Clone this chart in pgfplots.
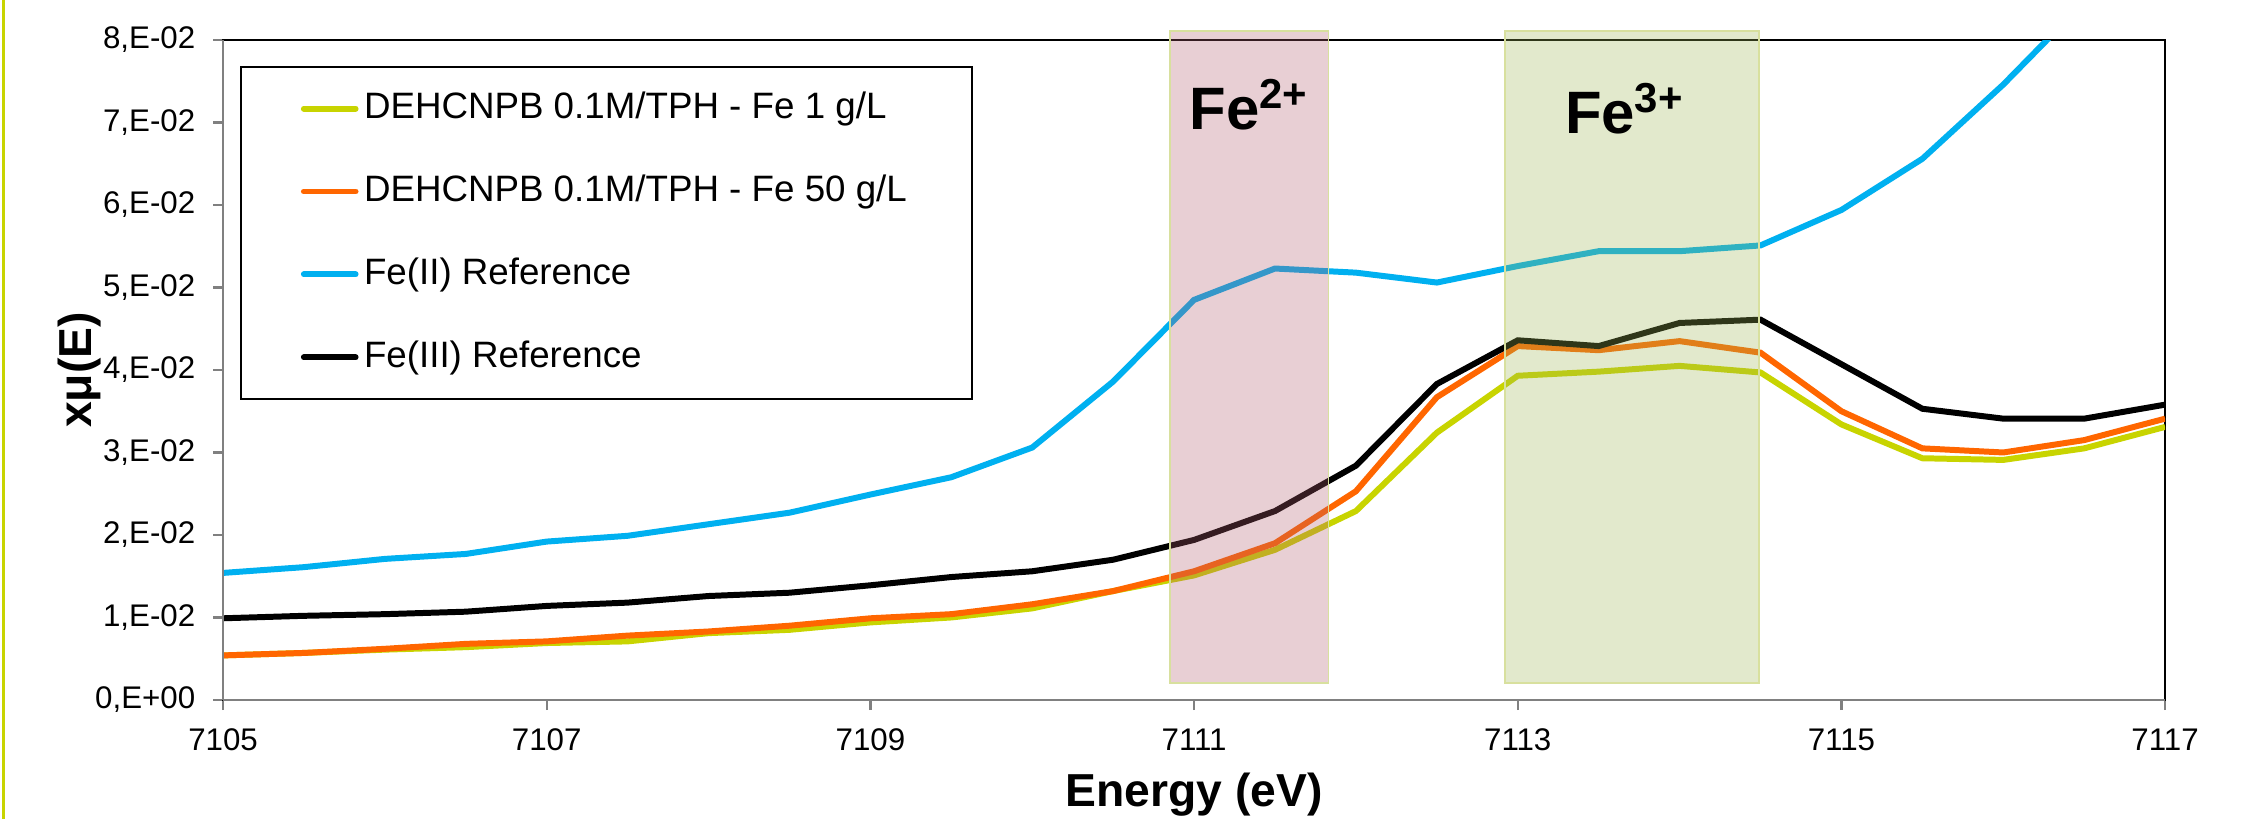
\documentclass[border=0pt]{standalone}
\usepackage{fontspec}
\setmainfont{Liberation Sans}
\usepackage{pgfplots}
\pgfplotsset{compat=1.18}
\definecolor{cyg}{HTML}{C8D400}
\definecolor{corange}{HTML}{FF6600}
\definecolor{cblue}{HTML}{00B0F0}
\definecolor{pinkbase}{RGB}{178,95,112}
\definecolor{greenbase}{RGB}{158,182,85}
\definecolor{rectborder}{HTML}{D8E09E}
\begin{document}
\begin{tikzpicture}
\begin{axis}[
  name=ax, at={(0,0)}, anchor=south west,
  scale only axis, width=713.9pt, height=242.6pt,
  xmin=7105, xmax=7117, ymin=0, ymax=0.08,
  scaled y ticks=false, scaled x ticks=false,
  xtick={7105,7107,7109,7111,7113,7115,7117},
  xticklabels={7105,7107,7109,7111,7113,7115,7117},
  ytick={0,0.01,0.02,0.03,0.04,0.05,0.06,0.07,0.08},
  yticklabels={{0,E+00},{1,E-02},{2,E-02},{3,E-02},{4,E-02},{5,E-02},{6,E-02},{7,E-02},{8,E-02}},
  xtick pos=left, ytick pos=left,
  tick align=outside, major tick length=3.7pt,
  tick style={gray, line width=0.8pt},
  axis line style={black, line width=0.75pt},
  ticklabel style={font=\fontsize{11.5}{13}\selectfont},
  yticklabel style={xshift=-3pt},
  xticklabel style={yshift=-3.4pt},
  xlabel={\bfseries Energy (eV)}, ylabel={\bfseries xμ(E)},
  label style={font=\fontsize{17}{20}\selectfont},
  xlabel style={at={(axis description cs:0.5,-0.162)}, anchor=base},
  ylabel style={at={(axis description cs:-0.068,0.5)}, anchor=base},
  clip mode=individual,
  legend cell align=left,
  legend image code/.code={\draw[#1, line cap=round] (0pt,0pt) -- (19pt,0pt);},
  legend style={at={(axis description cs:0.00875,0.9606)}, anchor=north west,
    draw=black, line width=0.75pt, fill=white,
    font=\fontsize{13.5}{16}\selectfont,
    inner xsep=22pt, inner ysep=6.5pt, row sep=13pt,
    nodes={text height=10.5pt, text depth=3pt, inner ysep=2pt}},
]
\addplot[cyg, line width=2.2pt] coordinates {
(7105,0.0054)(7105.5,0.0057)(7106,0.0061)(7106.5,0.0064)(7107,0.0069)(7107.5,0.0071)
(7108,0.0081)(7108.5,0.0085)(7109,0.0094)(7109.5,0.0100)(7110,0.0111)(7110.5,0.0132)
(7111,0.0151)(7111.5,0.0182)(7112,0.0229)(7112.5,0.0324)(7113,0.0393)(7113.5,0.0398)
(7114,0.0405)(7114.5,0.0397)(7115,0.0334)(7115.5,0.0293)(7116,0.0291)(7116.5,0.0305)(7117,0.0331)};
\addlegendentry{DEHCNPB 0.1M/TPH - Fe 1 g/L}
\addplot[corange, line width=2.2pt] coordinates {
(7105,0.0054)(7105.5,0.0057)(7106,0.0062)(7106.5,0.0068)(7107,0.0071)(7107.5,0.0078)
(7108,0.0083)(7108.5,0.0090)(7109,0.0099)(7109.5,0.0104)(7110,0.0116)(7110.5,0.0132)
(7111,0.0156)(7111.5,0.0190)(7112,0.0253)(7112.5,0.0367)(7113,0.0429)(7113.5,0.0424)
(7114,0.0435)(7114.5,0.0421)(7115,0.0350)(7115.5,0.0305)(7116,0.0300)(7116.5,0.0315)(7117,0.0341)};
\addlegendentry{DEHCNPB 0.1M/TPH - Fe 50 g/L}
\addplot[cblue, line width=2.2pt] coordinates {
(7105,0.0154)(7105.5,0.0161)(7106,0.0171)(7106.5,0.0177)(7107,0.0192)(7107.5,0.0199)
(7108,0.0213)(7108.5,0.0227)(7109,0.0249)(7109.5,0.0270)(7110,0.0306)(7110.5,0.0386)
(7111,0.0485)(7111.5,0.0523)(7112,0.0518)(7112.5,0.0506)(7113,0.0526)(7113.5,0.0544)
(7114,0.0544)(7114.5,0.0551)(7115,0.0594)(7115.5,0.0656)(7116,0.0746)(7116.5,0.0846)(7117,0.0960)};
\addlegendentry{Fe(II) Reference}
\addplot[black, line width=2.2pt] coordinates {
(7105,0.0099)(7105.5,0.0102)(7106,0.0104)(7106.5,0.0107)(7107,0.0114)(7107.5,0.0118)
(7108,0.0126)(7108.5,0.0130)(7109,0.0139)(7109.5,0.0149)(7110,0.0156)(7110.5,0.0170)
(7111,0.0194)(7111.5,0.0229)(7112,0.0284)(7112.5,0.0383)(7113,0.0436)(7113.5,0.0429)
(7114,0.0457)(7114.5,0.0461)(7115,0.0407)(7115.5,0.0353)(7116,0.0341)(7116.5,0.0341)(7117,0.0358)};
\addlegendentry{Fe(III) Reference}
\fill[pinkbase, fill opacity=0.3] (axis cs:7110.85,0.00206) rectangle (axis cs:7111.83,0.0811);
\draw[rectborder, line width=0.6pt] (axis cs:7110.85,0.00206) rectangle (axis cs:7111.83,0.0811);
\fill[greenbase, fill opacity=0.3] (axis cs:7112.92,0.00206) rectangle (axis cs:7114.49,0.0811);
\draw[rectborder, line width=0.6pt] (axis cs:7112.92,0.00206) rectangle (axis cs:7114.49,0.0811);
\node[anchor=base, font=\fontsize{22}{26}\selectfont\bfseries] at (axis cs:7111.34,0.0692) {Fe\textsuperscript{2+}};
\node[anchor=base, font=\fontsize{22}{26}\selectfont\bfseries] at (axis cs:7113.66,0.0687) {Fe\textsuperscript{3+}};
\draw[gray, line width=1pt] (rel axis cs:0,0) -- (rel axis cs:0,1);
\draw[gray, line width=1pt] (rel axis cs:0,0) -- (rel axis cs:1,0);
\end{axis}
\draw[cyg, line width=1pt] (-80.8pt,-43.7pt) -- (-80.8pt,257.3pt);
\pgfresetboundingbox
\useasboundingbox (-82.0pt,-43.7pt) rectangle (742.9pt,257.3pt);
\end{tikzpicture}
\end{document}
